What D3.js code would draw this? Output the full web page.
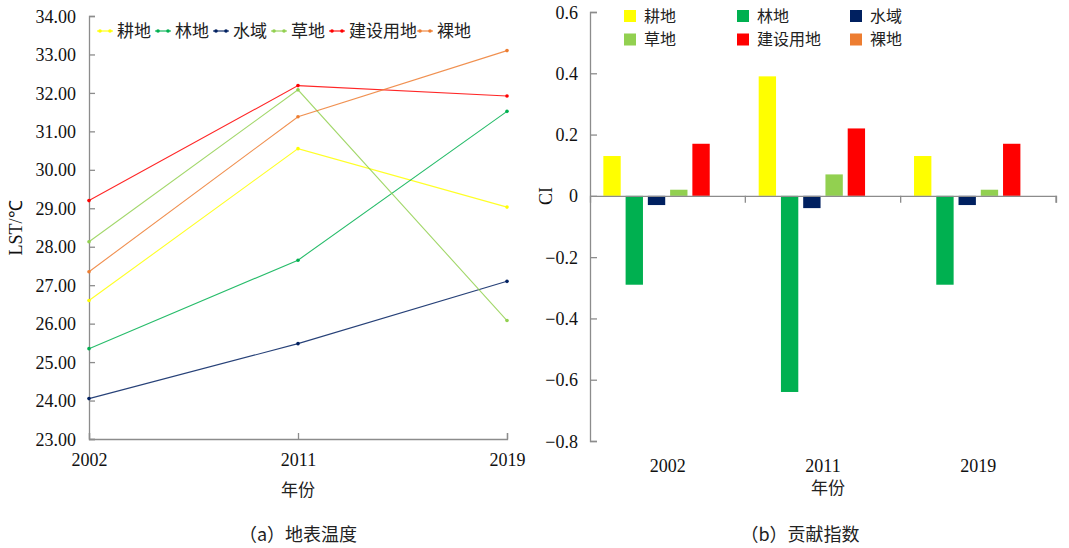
<!DOCTYPE html>
<html><head><meta charset="utf-8">
<script src="https://cdn.jsdelivr.net/npm/d3@7"></script>
<style>
body{margin:0;background:#fff;}
svg{display:block;}
</style></head>
<body>
<svg id="c" width="1069" height="548"></svg>
<script>
const years = ["2002", "2011", "2019"];
const landTypes = ["耕地", "林地", "水域", "草地", "建设用地", "裸地"];
const colors = ["#FFFF00", "#00B050", "#002060", "#92D050", "#FF0000", "#ED7D31"];
// LST (°C) per land type, across years 2002, 2011, 2019
const lstGengdi = [26.60, 30.55, 29.03];
const lstLindi = [25.35, 27.65, 31.52];
const lstShuiyu = [24.05, 25.48, 27.10];
const lstCaodi = [28.13, 32.08, 26.08];
const lstJianshe = [29.20, 32.19, 31.92];
const lstLuodi = [27.35, 31.38, 33.10];
// Contribution index per land type, across years
const ciGengdi = [0.13, 0.39, 0.13];
const ciLindi = [-0.29, -0.64, -0.29];
const ciShuiyu = [-0.03, -0.04, -0.03];
const ciCaodi = [0.02, 0.07, 0.02];
const ciJianshe = [0.17, 0.22, 0.17];
const ciLuodi = [0, 0, 0];
const lstTicks = [23, 24, 25, 26, 27, 28, 29, 30, 31, 32, 33, 34];
const ciTicks = [-0.8, -0.6, -0.4, -0.2, 0, 0.2, 0.4, 0.6];

const lstSeries = [lstGengdi, lstLindi, lstShuiyu, lstCaodi, lstJianshe, lstLuodi];
const ciSeries = [ciGengdi, ciLindi, ciShuiyu, ciCaodi, ciJianshe, ciLuodi];

const SERIF = "'Liberation Serif','Times New Roman',serif";
const CJK = "'Noto Sans CJK SC','Noto Sans',sans-serif";
const svg = d3.select("#c");
const axisColor = "#8c8c8c";

function styleAxis(a) {
  a.attr("font-family", SERIF).attr("font-size", 18);
  a.select(".domain").attr("stroke", axisColor).attr("stroke-width", 1.3);
  a.selectAll(".tick line").attr("stroke", axisColor).attr("stroke-width", 1.3);
  a.selectAll("text").attr("font-family", SERIF).attr("font-size", 18).attr("fill", "#111");
}

// ---------- Panel (a) ----------
const xA = d3.scalePoint().domain(years).range([89, 507]);
const yA = d3.scaleLinear().domain([23, 34]).range([439, 16]);
const gA = svg.append("g");

const yAxisA = gA.append("g").attr("transform", "translate(89,0)")
  .call(d3.axisRight(yA).tickValues(lstTicks).tickSize(6).tickFormat(d3.format(".2f")));
yAxisA.selectAll("text").attr("x", -13).attr("text-anchor", "end").attr("dy", "0.34em");
const xAxisA = gA.append("g").attr("transform", "translate(0,439)")
  .call(d3.axisTop(xA).tickSize(6));
xAxisA.selectAll("text").attr("y", 27).attr("dy", 0);
styleAxis(yAxisA); styleAxis(xAxisA);

const line = d3.line().x((d, i) => xA(years[i])).y(d => yA(d));
lstSeries.forEach((s, k) => {
  gA.append("path").datum(s).attr("d", line).attr("fill", "none")
    .attr("stroke", colors[k]).attr("stroke-width", 1.1).attr("opacity", 0.85);
  gA.selectAll(null).data(s).enter().append("circle")
    .attr("cx", (d, i) => xA(years[i])).attr("cy", d => yA(d)).attr("r", 1.8)
    .attr("fill", colors[k]);
});

// legend (a)
const legAx = [97, 155, 213, 271, 329, 417];
landTypes.forEach((t, k) => {
  const x0 = legAx[k];
  const g = gA.append("g");
  g.append("line").attr("x1", x0).attr("x2", x0 + 16).attr("y1", 31).attr("y2", 31)
    .attr("stroke", colors[k]).attr("stroke-width", 1.1);
  g.append("circle").attr("cx", x0 + 3).attr("cy", 31).attr("r", 1.8).attr("fill", colors[k]);
  g.append("circle").attr("cx", x0 + 13).attr("cy", 31).attr("r", 1.8).attr("fill", colors[k]);
  g.append("text").attr("font-family", CJK).attr("x", x0 + 20).attr("y", 31).attr("dy", "0.36em")
    .attr("font-size", 17).attr("fill", "#222").text(t);
});

gA.append("text").attr("font-family", SERIF).attr("font-size", 18).attr("fill", "#111")
  .attr("transform", "translate(22,228) rotate(-90)").attr("text-anchor", "middle").text("LST/℃");
gA.append("text").attr("font-family", CJK).attr("font-size", 17).attr("fill", "#222")
  .attr("x", 298).attr("y", 496).attr("text-anchor", "middle").text("年份");
gA.append("text").attr("font-family", CJK).attr("font-size", 18).attr("fill", "#222")
  .attr("x", 298).attr("y", 541).attr("text-anchor", "middle").text("（a）地表温度");

// ---------- Panel (b) ----------
const xB = d3.scaleBand().domain(years).range([590, 1056]);
const xInner = d3.scaleBand().domain(landTypes).range([0, xB.bandwidth()]).paddingInner(0.22).paddingOuter(0.6);
const yB = d3.scaleLinear().domain([-0.8, 0.6]).range([441, 12]);
const gB = svg.append("g");

years.forEach((y, i) => {
  ciSeries.forEach((s, k) => {
    const v = s[i];
    gB.append("rect")
      .attr("x", xB(y) + xInner(landTypes[k]))
      .attr("width", xInner.bandwidth())
      .attr("y", yB(Math.max(0, v)))
      .attr("height", Math.abs(yB(v) - yB(0)))
      .attr("fill", colors[k]);
  });
});

const yAxisB = gB.append("g").attr("transform", "translate(590,0)")
  .call(d3.axisRight(yB).tickValues(ciTicks).tickSize(7).tickFormat(d => d === 0 ? "0" : d3.format(".1f")(d)));
yAxisB.selectAll("text").attr("x", -12).attr("text-anchor", "end").attr("dy", "0.34em");
const xAxisB = gB.append("g").attr("transform", `translate(0,${yB(0)})`)
  .call(d3.axisBottom(xB).tickSize(7).tickFormat(""));
xAxisB.selectAll(".tick").remove();
[xB.range()[0] + xB.step(), xB.range()[0] + 2 * xB.step(), xB.range()[1]].forEach(x => {
  xAxisB.append("line").attr("class", "sep").attr("x1", x).attr("x2", x).attr("y1", 0).attr("y2", 7)
    .attr("stroke", axisColor).attr("stroke-width", 1.3);
});
styleAxis(yAxisB); styleAxis(xAxisB);
// category labels
gB.selectAll(null).data(years).enter().append("text").attr("font-family", SERIF)
  .attr("font-size", 18).attr("fill", "#111").attr("text-anchor", "middle")
  .attr("x", d => xB(d) + xB.bandwidth() / 2).attr("y", 472).text(d => d);

// legend (b)
const legBx = [624, 737, 850];
const legBy = [16, 39.5];
landTypes.forEach((t, k) => {
  const x0 = legBx[k % 3], y0 = legBy[Math.floor(k / 3)];
  gB.append("rect").attr("x", x0).attr("y", y0 - 6).attr("width", 12).attr("height", 12).attr("fill", colors[k]);
  gB.append("text").attr("font-family", CJK).attr("x", x0 + 20).attr("y", y0).attr("dy", "0.36em")
    .attr("font-size", 16).attr("fill", "#222").text(t);
});

gB.append("text").attr("font-family", SERIF).attr("font-size", 18).attr("fill", "#111")
  .attr("transform", "translate(552,196) rotate(-90)").attr("text-anchor", "middle").text("CI");
gB.append("text").attr("font-family", CJK).attr("font-size", 17).attr("fill", "#222")
  .attr("x", 828).attr("y", 494).attr("text-anchor", "middle").text("年份");
gB.append("text").attr("font-family", CJK).attr("font-size", 18).attr("fill", "#222")
  .attr("x", 800).attr("y", 541).attr("text-anchor", "middle").text("（b）贡献指数");
</script>
</body></html>
